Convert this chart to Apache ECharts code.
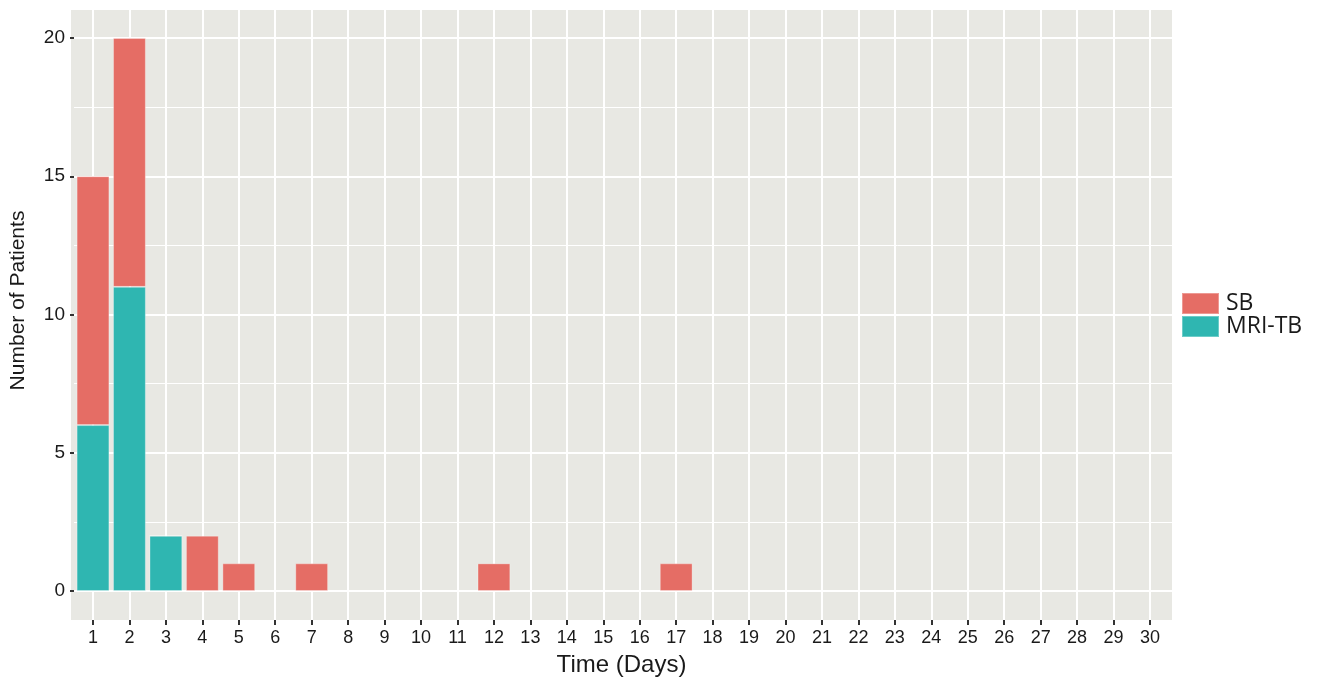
<!DOCTYPE html>
<html>
<head>
<meta charset="utf-8">
<script src="https://cdn.jsdelivr.net/npm/echarts@6/dist/echarts.min.js"></script>
<style>
  html, body { margin: 0; padding: 0; background: #fff; }
  #chart { width: 1317px; height: 682px; }
</style>
</head>
<body>
<div id="chart"></div>
<script>
// days on the x axis
const days = ['1','2','3','4','5','6','7','8','9','10','11','12','13','14','15',
  '16','17','18','19','20','21','22','23','24','25','26','27','28','29','30']
// patients per day, stacked (MRI-TB at bottom)
const mriTb = [6, 11, 2, 0, 0, 0, 0, 0, 0, 0, 0, 0, 0, 0, 0, 0, 0, 0, 0, 0, 0, 0, 0, 0, 0, 0, 0, 0, 0, 0]
const sb = [9, 9, 0, 2, 1, 0, 1, 0, 0, 0, 0, 1, 0, 0, 0, 0, 1, 0, 0, 0, 0, 0, 0, 0, 0, 0, 0, 0, 0, 0]
const yTicks = { min: 0, max: 20, interval: 5 }

const FONT = 'Liberation Sans'
const white = '#ffffff'

const chart = echarts.init(document.getElementById('chart'), null, { renderer: 'canvas' })

chart.setOption({
  animation: false,
  textStyle: { fontFamily: FONT },
  grid: [
    // panel background
    { left: 71, top: 10, width: 1101, height: 610, show: true, backgroundColor: '#E8E8E3', borderWidth: 0 },
    // horizontal grid lines + y labels
    { left: 71, top: 38, width: 1101, height: 553 },
    // vertical grid lines + x labels
    { left: 93, top: 10, width: 1057, height: 610 },
    // bars
    { left: 93, top: 38, width: 1057, height: 553 },
  ],
  xAxis: [
    { gridIndex: 0, type: 'value', show: false },
    { gridIndex: 1, type: 'value', show: false },
    {
      gridIndex: 2,
      type: 'category',
      data: days,
      boundaryGap: false,
      name: 'Time (Days)',
      nameLocation: 'middle',
      nameGap: 33,
      nameTextStyle: { fontSize: 24, color: '#1a1a1a', fontFamily: FONT },
      axisLine: { show: false },
      axisTick: { show: true, length: 5, lineStyle: { color: '#333', width: 2 } },
      axisLabel: { fontSize: 18, color: '#1a1a1a', margin: 9, interval: 0, fontFamily: FONT },
      splitLine: { show: true, interval: 0, lineStyle: { color: white, width: 2 } },
    },
    { gridIndex: 3, type: 'category', data: days, boundaryGap: false, show: false },
  ],
  yAxis: [
    { gridIndex: 0, type: 'value', show: false },
    {
      gridIndex: 1,
      type: 'value',
      min: yTicks.min,
      max: yTicks.max,
      interval: yTicks.interval,
      name: 'Number of Patients',
      nameLocation: 'middle',
      nameGap: 45,
      nameTextStyle: { fontSize: 21, color: '#1a1a1a', fontFamily: FONT, padding: [0, 0, 0, 28] },
      axisLine: { show: false },
      axisTick: { show: true, length: 4, lineStyle: { color: '#333', width: 2 } },
      axisLabel: { fontSize: 19, color: '#1a1a1a', margin: 9, fontFamily: FONT },
      splitLine: { show: true, lineStyle: { color: white, width: 2 } },
      minorTick: { show: false, splitNumber: 2 },
      minorSplitLine: { show: true, lineStyle: { color: white, width: 1 } },
    },
    { gridIndex: 2, type: 'value', show: false },
    { gridIndex: 3, type: 'value', min: yTicks.min, max: yTicks.max, show: false },
  ],
  legend: {
    data: ['SB', 'MRI-TB'],
    orient: 'vertical',
    left: 1176,
    top: 287,
    itemWidth: 37,
    itemHeight: 21,
    itemGap: 0,
    icon: 'rect',
    textStyle: { fontSize: 23, lineHeight: 21, color: '#1a1a1a', fontFamily: 'Open Sans', padding: [0, 0, 0, 2] },
  },
  series: [
    {
      name: 'MRI-TB',
      type: 'bar',
      stack: 'total',
      xAxisIndex: 3,
      yAxisIndex: 3,
      barWidth: '90%',
      clip: false,
      itemStyle: { color: '#2FB6B1', borderColor: 'rgba(255,255,255,0.3)', borderWidth: 1 },
      data: mriTb,
    },
    {
      name: 'SB',
      type: 'bar',
      stack: 'total',
      xAxisIndex: 3,
      yAxisIndex: 3,
      barWidth: '90%',
      clip: false,
      itemStyle: { color: '#E56D65', borderColor: 'rgba(255,255,255,0.3)', borderWidth: 1 },
      data: sb,
    },
  ],
})
</script>
</body>
</html>
